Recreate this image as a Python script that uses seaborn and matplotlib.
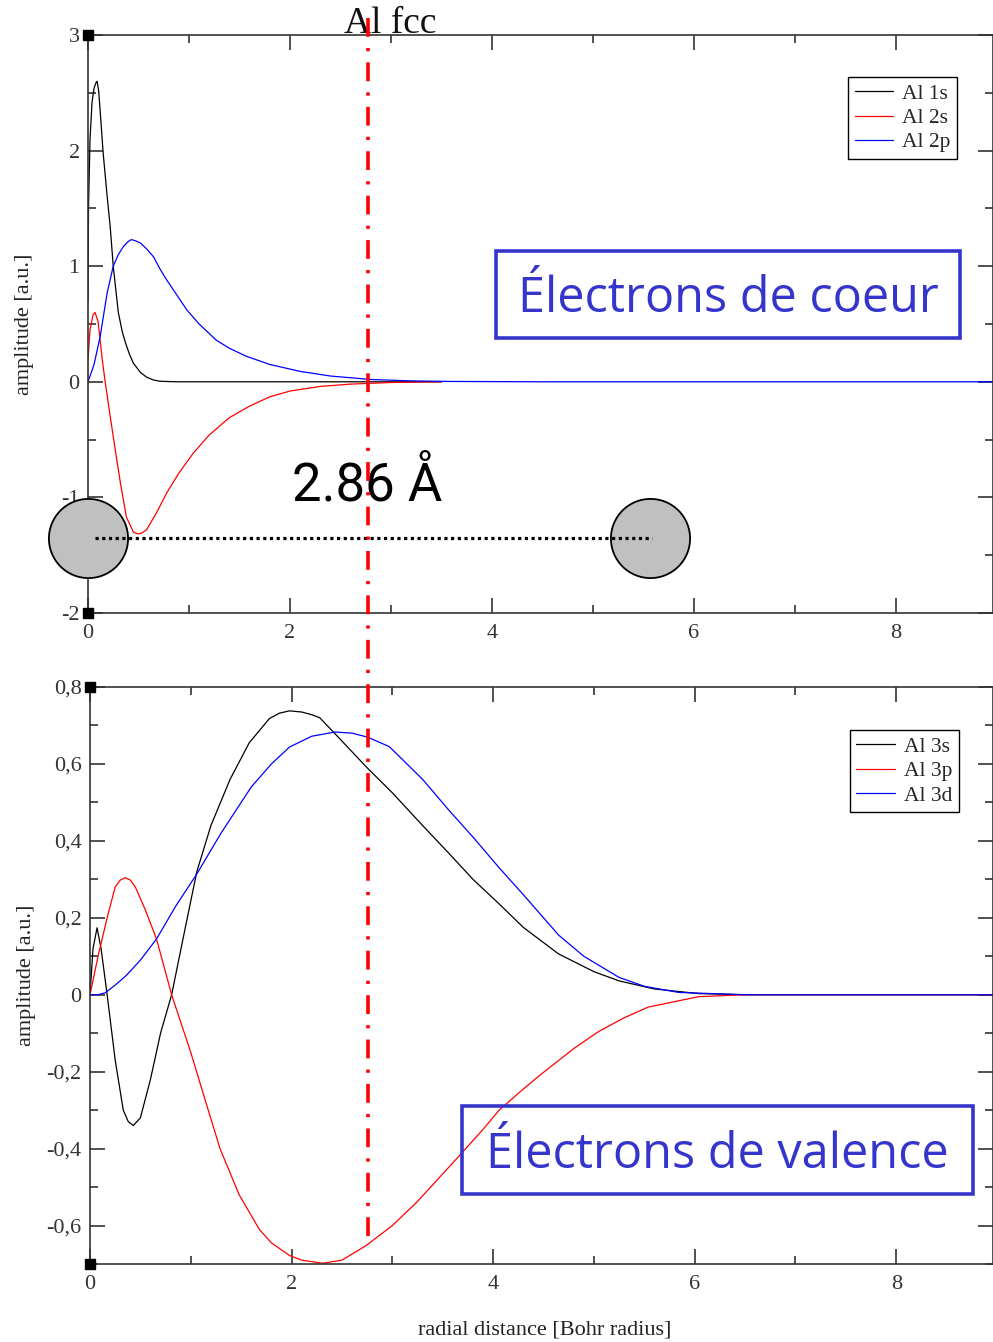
import numpy as np
import pandas as pd
import matplotlib
matplotlib.use('Agg')
import matplotlib.pyplot as plt
import seaborn as sns
from matplotlib.lines import Line2D
from matplotlib.patches import Rectangle
from matplotlib.ticker import MultipleLocator, FuncFormatter

# core states (top panel)
r_1s = [0.0, 0.005, 0.02, 0.04, 0.06, 0.08, 0.09, 0.105, 0.12, 0.15, 0.19, 0.22, 0.25, 0.30, 0.34, 0.37, 0.41, 0.45, 0.52, 0.58, 0.65, 0.71, 0.80, 0.90, 3.5]
a_1s = [0.7, 1.5, 2.1, 2.42, 2.54, 2.59, 2.6, 2.52, 2.35, 1.98, 1.6, 1.34, 1.0, 0.6, 0.43, 0.34, 0.24, 0.16, 0.08, 0.04, 0.015, 0.005, 0.002, 0.0, 0.0]

r_2s = [0.0, 0.02, 0.05, 0.07, 0.10, 0.14, 0.17, 0.22, 0.27, 0.32, 0.38, 0.45, 0.49, 0.53, 0.58, 0.62, 0.68, 0.78, 0.90, 1.04, 1.2, 1.4, 1.6, 1.8, 2.0, 2.3, 2.6, 3.0, 3.5]
a_2s = [0.19, 0.45, 0.58, 0.60, 0.52, 0.2, 0.0, -0.3, -0.59, -0.87, -1.17, -1.30, -1.315, -1.31, -1.28, -1.22, -1.13, -0.96, -0.79, -0.62, -0.46, -0.31, -0.21, -0.13, -0.08, -0.04, -0.02, -0.006, 0.0]

r_2p = [0.0, 0.06, 0.12, 0.19, 0.25, 0.30, 0.35, 0.40, 0.43, 0.47, 0.52, 0.58, 0.65, 0.71, 0.78, 0.88, 0.98, 1.1, 1.27, 1.4, 1.57, 1.8, 2.1, 2.4, 2.8, 3.2, 3.6, 4.5, 9.0]
a_2p = [0.0, 0.15, 0.39, 0.77, 1.0, 1.1, 1.17, 1.215, 1.23, 1.22, 1.2, 1.15, 1.08, 0.98, 0.88, 0.75, 0.62, 0.5, 0.36, 0.29, 0.22, 0.15, 0.09, 0.05, 0.02, 0.008, 0.003, 0.0, 0.0]

# valence states (bottom panel)
r_3s = [0.0, 0.03, 0.07, 0.11, 0.17, 0.25, 0.33, 0.38, 0.43, 0.50, 0.60, 0.70, 0.81, 0.95, 1.06, 1.2, 1.39, 1.58, 1.78, 1.88, 1.98, 2.1, 2.2, 2.28, 2.48, 2.75, 3.0, 3.3, 3.56, 3.8, 4.06, 4.3, 4.65, 5.0, 5.25, 5.6, 6.04, 6.5, 9.0]
a_3s = [0.0, 0.12, 0.174, 0.12, 0.0, -0.17, -0.30, -0.33, -0.34, -0.32, -0.22, -0.10, 0.0, 0.18, 0.32, 0.44, 0.56, 0.655, 0.718, 0.732, 0.738, 0.735, 0.728, 0.72, 0.665, 0.59, 0.525, 0.44, 0.368, 0.30, 0.236, 0.175, 0.106, 0.06, 0.036, 0.015, 0.003, 0.0, 0.0]

r_3p = [0.0, 0.08, 0.17, 0.25, 0.30, 0.35, 0.40, 0.45, 0.55, 0.66, 0.81, 1.0, 1.15, 1.29, 1.48, 1.68, 1.8, 1.98, 2.1, 2.31, 2.5, 2.74, 3.0, 3.24, 3.45, 3.66, 3.9, 4.06, 4.3, 4.46, 4.8, 5.05, 5.3, 5.54, 6.04, 6.5, 9.0]
a_3p = [0.0, 0.1, 0.2, 0.28, 0.298, 0.304, 0.298, 0.28, 0.22, 0.145, 0.0, -0.15, -0.28, -0.4, -0.52, -0.61, -0.645, -0.678, -0.69, -0.698, -0.69, -0.652, -0.6, -0.54, -0.48, -0.42, -0.35, -0.3, -0.245, -0.21, -0.14, -0.095, -0.06, -0.032, -0.005, 0.0, 0.0]

r_3d = [0.0, 0.08, 0.15, 0.25, 0.36, 0.5, 0.66, 0.85, 1.06, 1.3, 1.6, 1.8, 1.98, 2.2, 2.43, 2.6, 2.75, 2.97, 3.3, 3.56, 3.8, 4.06, 4.3, 4.65, 4.9, 5.25, 5.5, 5.84, 6.5, 9.0]
a_3d = [0.0, 0.0, 0.005, 0.025, 0.05, 0.09, 0.145, 0.23, 0.314, 0.42, 0.54, 0.6, 0.644, 0.672, 0.683, 0.68, 0.67, 0.645, 0.56, 0.48, 0.41, 0.33, 0.26, 0.155, 0.1, 0.045, 0.022, 0.006, 0.0, 0.0]

core = [('Al 1s', r_1s, a_1s, 'black'), ('Al 2s', r_2s, a_2s, 'red'), ('Al 2p', r_2p, a_2p, 'blue')]
valence = [('Al 3s', r_3s, a_3s, 'black'), ('Al 3p', r_3p, a_3p, 'red'), ('Al 3d', r_3d, a_3d, 'blue')]

sns.set_theme(style='ticks')
plt.rcParams['font.family'] = ['Liberation Serif', 'DejaVu Serif']

W, H = 993, 1342
fig = plt.figure(figsize=(W / 100, H / 100), dpi=100)

def px_axes(x0, x1, y0, y1):
    return fig.add_axes([x0 / W, 1 - y1 / H, (x1 - x0) / W, (y1 - y0) / H])

ax1 = px_axes(88, 993, 35, 613)
ax2 = px_axes(90, 993, 687, 1264)

def comma(v, p):
    if abs(v) < 1e-9:
        return '0'
    return f'{v:.1f}'.replace('.', ',')

def style(ax, ylim, ymaj, ymin, fmt):
    ax.set_xlim(0, 8.96)
    ax.set_ylim(*ylim)
    ax.xaxis.set_major_locator(MultipleLocator(2))
    ax.xaxis.set_minor_locator(MultipleLocator(1))
    ax.yaxis.set_major_locator(MultipleLocator(ymaj))
    ax.yaxis.set_minor_locator(MultipleLocator(ymin))
    ax.yaxis.set_major_formatter(FuncFormatter(fmt))
    ax.tick_params(which='both', direction='in', top=True, right=True, colors='#222222',
                   labelsize=16, labelcolor='#333333')
    ax.tick_params(which='major', length=11, width=1.1, pad=6)
    ax.tick_params(which='minor', length=5.5, width=1.1)
    ax.tick_params(axis='x', which='major', pad=8)
    for s in ax.spines.values():
        s.set_color('#333333')
        s.set_linewidth(1.2)
    ax.set_ylabel('amplitude [a.u.]', fontsize=16, color='#222222')
    ax.yaxis.set_label_coords(-0.06, 0.5)
    # grace-like corner squares
    ax.plot([0, 0], list(ylim), 's', color='black', ms=7, clip_on=False, zorder=6)

style(ax1, (-2, 3), 1, 0.5, lambda v, p: f'{v:g}')
style(ax2, (-0.7, 0.8), 0.2, 0.1, comma)

for ax, states in ((ax1, core), (ax2, valence)):
    for name, r, a, c in states:
        df = pd.DataFrame({'r': r, 'a': a})
        sns.lineplot(data=df, x='r', y='a', color=c, lw=0.9, label=name, ax=ax, sort=False, estimator=None)
    ax.set_xlabel('')
    leg = ax.legend(fontsize=15.5, frameon=True, fancybox=False, edgecolor='black', framealpha=1,
                    handlelength=1.8, handletextpad=0.4, labelspacing=0.2, borderpad=0.3,
                    loc='upper right', borderaxespad=0)
    leg.get_frame().set_linewidth(1.0)

ax1.get_legend().set_bbox_to_anchor((0.960, 0.927))
ax2.get_legend().set_bbox_to_anchor((0.962, 0.925))

# interatomic distance sketch
y_atoms = -1.35
ax1.plot([0, 5.56], [y_atoms, y_atoms], 'o', ms=57, mfc='#c0c0c0', mec='black', mew=1.3,
         clip_on=False, zorder=7)
ax1.plot([0.07, 5.58], [y_atoms, y_atoms], color='black', lw=2.3, ls=(0, (1, 1.1)),
         dash_capstyle='butt', zorder=8, clip_on=False)
fig.text(367 / W, 1 - 486 / H, '2.86 Å', fontsize=38, ha='center', va='center',
         family=['Roboto', 'DejaVu Sans'], color='black', zorder=9)

fig.text(390 / W, 1 - 33 / H, 'Al fcc', fontsize=27, ha='center', va='baseline', color='#111111')
fig.text(545 / W, 1 - 1330 / H, 'radial distance [Bohr radius]', fontsize=16, ha='center',
         va='center', color='#222222')

# red dash-dot marker of the nearest-neighbour distance
fig.add_artist(Line2D([368 / W, 368 / W], [1 - 18 / H, 1 - 1240 / H], color='red', lw=2.6,
                      ls=(0, (5.2, 3.1, 0.9, 3.1)), dash_capstyle='butt', zorder=10))

# blue labels
blue = '#3535cc'
for (x0, x1, y0, y1), txt in (((496, 960, 251, 338), 'Électrons de coeur'),
                              ((462, 973, 1106, 1194), 'Électrons de valence')):
    fig.add_artist(Rectangle((x0 / W, 1 - y1 / H), (x1 - x0) / W, (y1 - y0) / H,
                             transform=fig.transFigure, fill=False, ec=blue, lw=2.6, zorder=11))
    fig.text((x0 + x1) / 2 / W, 1 - ((y0 + y1) / 2 + 5) / H, txt, fontsize=35, color=blue,
             ha='center', va='center', family=['Open Sans', 'DejaVu Sans'], zorder=11)

plt.savefig('out.png', dpi=100)
